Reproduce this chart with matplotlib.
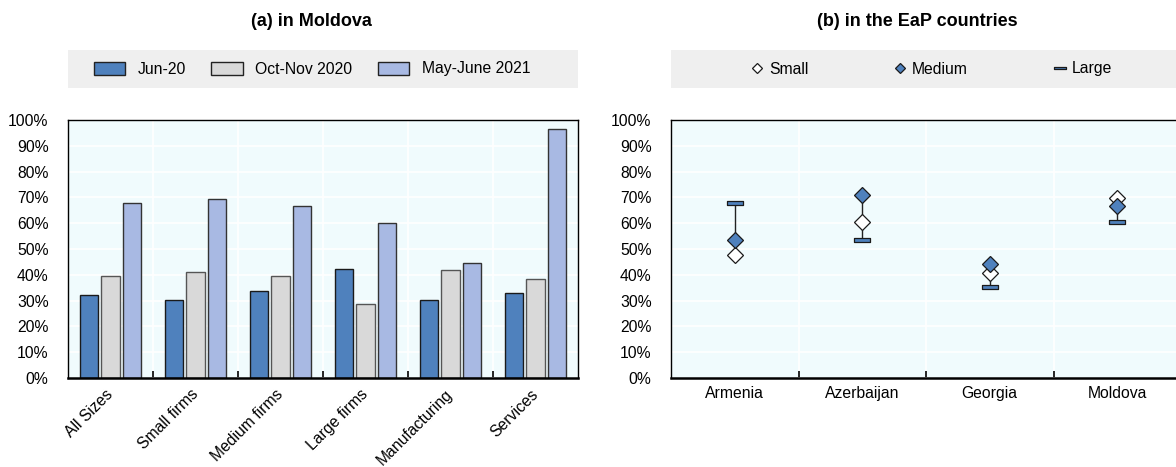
import matplotlib
matplotlib.use("Agg")
import matplotlib.pyplot as plt
import numpy as np
from matplotlib.patches import Rectangle, Patch
from matplotlib.lines import Line2D
from matplotlib.path import Path

plt.rcParams['font.family'] = ['Liberation Sans', 'DejaVu Sans']
FS = 11.3
TFS = 13.0

# ---- Panel (a): Moldova by firm group ----
groups = ["All Sizes", "Small firms", "Medium firms", "Large firms", "Manufacturing", "Services"]
periods = ["Jun-20", "Oct-Nov 2020", "May-June 2021"]
jun20 = [32.1, 30.4, 33.9, 42.2, 30.2, 32.9]
octnov20 = [39.4, 40.9, 39.4, 28.7, 41.9, 38.3]
mayjun21 = [68.0, 69.4, 66.7, 60.2, 44.4, 96.5]

# ---- Panel (b): EaP countries by firm size ----
countries = ["Armenia", "Azerbaijan", "Georgia", "Moldova"]
small = [47.5, 60.3, 40.6, 69.7]
medium = [53.3, 71.1, 44.3, 66.6]
large = [67.8, 53.4, 35.4, 60.3]

BLUE = "#4F81BD"
GREY = "#D9D9D9"
LAV = "#A8B9E3"
BG = "#F0FBFD"
LEGBG = "#EFEFEF"

W, H = 1176, 467
fig = plt.figure(figsize=(W / 100, H / 100), dpi=100)


def fx(px):
    return px / W


def fy(py):
    return 1 - py / H


def style_axes(ax, n):
    ax.set_facecolor(BG)
    ax.set_ylim(0, 1.0)
    ticks = np.arange(0, 1.01, 0.1)
    ax.set_yticks(ticks)
    ax.set_yticklabels([f"{int(round(v * 100))}%" for v in ticks])
    ax.set_xlim(-0.5, n - 0.5)
    ax.tick_params(axis="y", length=0, pad=14, labelsize=FS)
    ax.set_axisbelow(True)
    ax.yaxis.grid(True, color="white", linewidth=1.2)
    # category separators: white grid + small inward ticks on the bottom
    seps = np.arange(0.5, n - 0.5, 1)
    for s in seps:
        ax.axvline(s, color="white", linewidth=1.2, zorder=0.5)
    ax.set_xticks(seps, minor=True)
    ax.tick_params(axis="x", which="minor", direction="in", length=5, width=1.2, color="black")
    ax.tick_params(axis="x", which="major", length=0)
    for sp in ax.spines.values():
        sp.set_color("black")
        sp.set_linewidth(1.0)
    ax.spines["bottom"].set_linewidth(1.8)


# ---------- Left panel ----------
axL = fig.add_axes([fx(68), fy(378), fx(510), (378 - 120) / H])
style_axes(axL, len(groups))
x = np.arange(len(groups))
bw = 0.218
step = 0.253
series = [jun20, octnov20, mayjun21]
colors = [BLUE, GREY, LAV]
edges = ["#1a1a1a", "#555555", "#333333"]
for i, (vals, c, e) in enumerate(zip(series, colors, edges)):
    axL.bar(x + (i - 1) * step, np.array(vals) / 100, width=bw, color=c,
            edgecolor=e, linewidth=1.0, zorder=2)
axL.set_xticks(x)
axL.set_xticklabels(groups, rotation=45, ha="right", va="center",
                    rotation_mode="anchor", fontsize=FS)
axL.tick_params(axis="x", which="major", pad=10)

# title + legend band
fig.text(fx(311), fy(22), "(a) in Moldova", ha="center", va="center",
         fontweight="bold", fontsize=TFS)
fig.patches.append(Rectangle((fx(68), fy(88)), fx(510), (88 - 50) / H,
                             transform=fig.transFigure, facecolor=LEGBG,
                             edgecolor="none", zorder=0))
handlesL = [Patch(facecolor=c, edgecolor="#222222", linewidth=1.0) for c in colors]
fig.legend(handlesL, periods, loc="center", bbox_to_anchor=(fx(312), fy(69)),
           ncol=3, frameon=False, fontsize=FS, handlelength=2.0,
           handleheight=0.9, handletextpad=0.8, columnspacing=1.6)

# ---------- Right panel ----------
axR = fig.add_axes([fx(671), fy(378), fx(510), (378 - 120) / H])
style_axes(axR, len(countries))
axR.spines["right"].set_visible(False)
xc = np.arange(len(countries))
lo = np.minimum(np.minimum(small, medium), large) / 100
hi = np.maximum(np.maximum(small, medium), large) / 100
axR.vlines(xc, lo, hi, color="#222222", linewidth=1.0, zorder=2)

bar_marker = Path([(-1, -0.22), (1, -0.22), (1, 0.22), (-1, 0.22), (-1, -0.22)],
                  [Path.MOVETO, Path.LINETO, Path.LINETO, Path.LINETO, Path.CLOSEPOLY])
axR.plot(xc, np.array(large) / 100, linestyle="none", marker=bar_marker,
         markersize=11.5, markerfacecolor=BLUE, markeredgecolor="#1a1a1a",
         markeredgewidth=0.9, zorder=3)
axR.plot(xc, np.array(small) / 100, linestyle="none", marker="D", markersize=8.6,
         markerfacecolor="white", markeredgecolor="#1a1a1a", markeredgewidth=0.9, zorder=4)
axR.plot(xc, np.array(medium) / 100, linestyle="none", marker="D", markersize=8.6,
         markerfacecolor=BLUE, markeredgecolor="#1a1a1a", markeredgewidth=0.9, zorder=5)
axR.set_xticks(xc)
axR.set_xticklabels(countries, fontsize=FS)
axR.tick_params(axis="x", which="major", pad=6)

fig.text(fx(917), fy(22), "(b) in the EaP countries", ha="center", va="center",
         fontweight="bold", fontsize=TFS)
fig.patches.append(Rectangle((fx(671), fy(88)), fx(510), (88 - 50) / H,
                             transform=fig.transFigure, facecolor=LEGBG,
                             edgecolor="none", zorder=0))
handlesR = [
    Line2D([], [], linestyle="none", marker="D", markersize=5.5, markerfacecolor="white",
           markeredgecolor="#1a1a1a", markeredgewidth=0.9),
    Line2D([], [], linestyle="none", marker="D", markersize=5.5, markerfacecolor=BLUE,
           markeredgecolor="#1a1a1a", markeredgewidth=0.9),
    Line2D([], [], linestyle="none", marker=bar_marker, markersize=8, markerfacecolor=BLUE,
           markeredgecolor="#1a1a1a", markeredgewidth=0.9),
]
fig.legend(handlesR, ["Small", "Medium", "Large"], loc="center",
           bbox_to_anchor=(fx(931), fy(69)), ncol=3, frameon=False, fontsize=FS,
           handlelength=0.9, handletextpad=0.3, columnspacing=5.4)

fig.savefig("out.png", dpi=100)
